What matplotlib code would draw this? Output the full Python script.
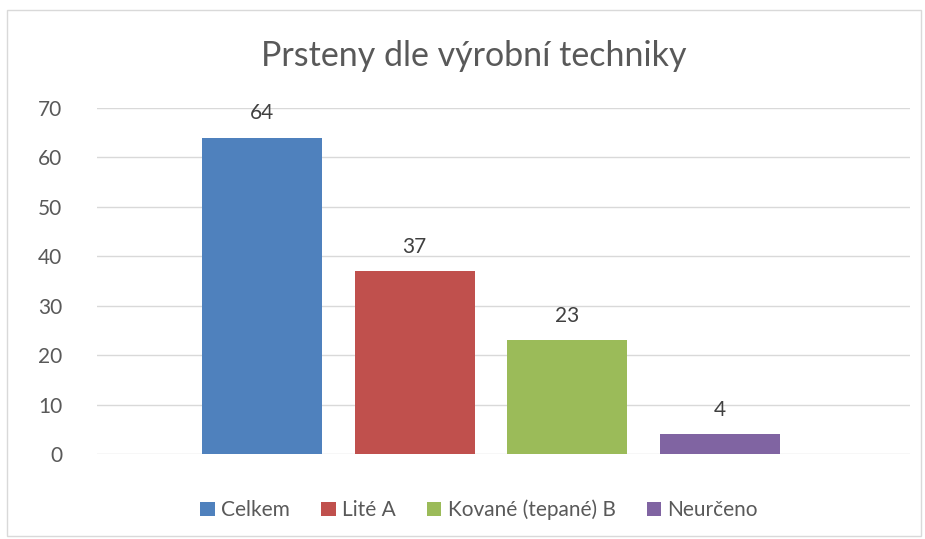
import matplotlib.pyplot as plt
from matplotlib.patches import Rectangle, Patch

plt.rcParams['font.family'] = ['Lato', 'DejaVu Sans']

# Data
labels = ['Celkem', 'Lité A', 'Kované (tepané) B', 'Neurčeno']
values = [64, 37, 23, 4]
colors = ['#4f81bd', '#c0504d', '#9bbb59', '#8064a2']
yticks = [0, 10, 20, 30, 40, 50, 60, 70]

text_col = '#595959'

fig = plt.figure(figsize=(9.25, 5.39), dpi=100)
ax = fig.add_axes([97 / 925, 1 - 454 / 539, 813 / 925, 346 / 539])

# chart border
fig.patches.append(Rectangle((7 / 925, 3 / 539), 914 / 925, 526 / 539,
                             transform=fig.transFigure, fill=False,
                             edgecolor='#d9d9d9', linewidth=1))

x = list(range(len(values)))
bars = ax.bar(x, values, width=0.787, color=colors, zorder=3)
for xi, v in zip(x, values):
    ax.text(xi, v + 2.9, str(v), ha='center', va='bottom', fontsize=15, color='#404040')

ax.set_xlim(-1.082, 4.249)
ax.set_ylim(0, 70)
ax.set_yticks(yticks)
ax.set_xticks([])
ax.grid(axis='y', color='#d9d9d9', linewidth=1, zorder=0)
for s in ax.spines.values():
    s.set_visible(False)
ax.tick_params(axis='y', length=0, labelsize=15, labelcolor=text_col, pad=25)

fig.text(474 / 925, 1 - 56 / 539, 'Prsteny dle výrobní techniky', ha='center', va='center',
         fontsize=24.5, color=text_col)

handles = [Patch(facecolor=c) for c in colors]
fig.legend(handles, labels, loc='center', bbox_to_anchor=(479 / 925, 1 - 510 / 539),
           ncol=4, frameon=False, fontsize=15, handlelength=0.7, handleheight=0.7,
           handletextpad=0.3, columnspacing=1.5, labelcolor=text_col)

fig.savefig('out.png', dpi=100)
